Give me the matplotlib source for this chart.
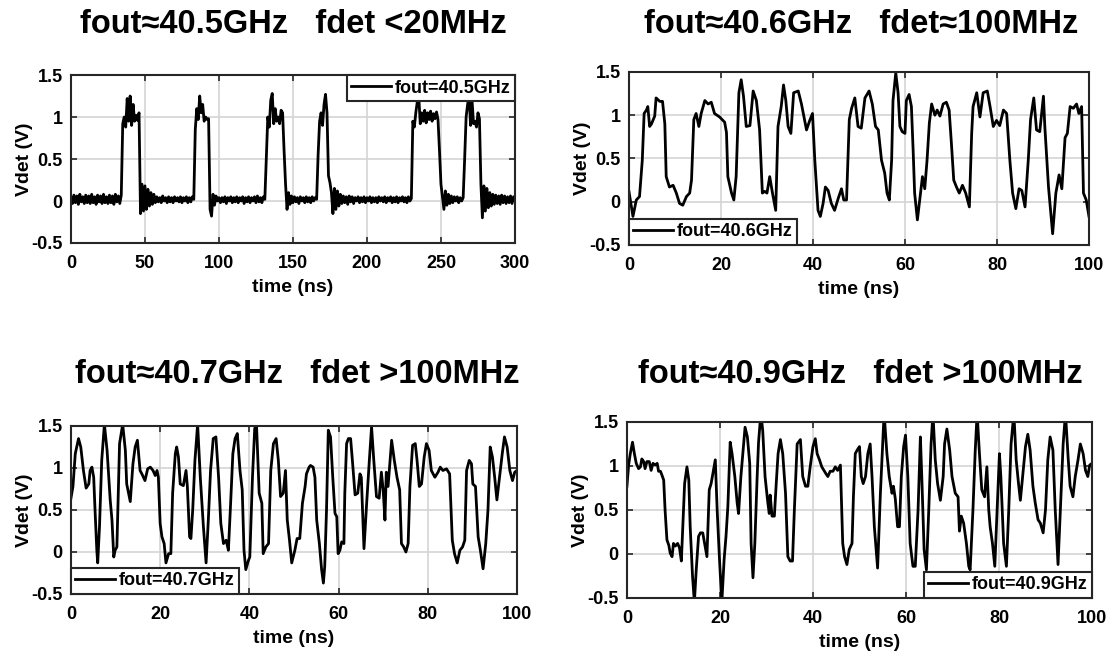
import numpy as np
import matplotlib
matplotlib.use("Agg")
from matplotlib import pyplot as plt

# ---- detector output traces (time in ns, Vdet in V) ----

# 40.5 GHz: sampled every 1 ns, 0..300 ns
t1 = np.arange(0, 301)
v1 = (
    # baseline 0..34
    [0.05, -0.03, 0.07, -0.02, 0.06, -0.04, 0.08, -0.01, 0.05, -0.03,
     0.07, -0.02, 0.06, -0.03, 0.08, -0.02, 0.05, -0.04, 0.07, -0.01,
     0.06, -0.03, 0.08, -0.02, 0.05, -0.03, 0.07, -0.02, 0.06, -0.04,
     0.08, -0.01, 0.06, -0.03, 0.07]
    # pulse 35..46
    + [0.92, 1.0, 0.88, 1.22, 0.95, 1.25, 0.9, 1.15, 0.95, 1.02, 0.96, 1.05]
    # ringing 47..56
    + [-0.15, 0.2, -0.12, 0.18, -0.1, 0.14, -0.06, 0.1, -0.04, 0.08]
    # baseline 57..83
    + [-0.02, 0.05, -0.01, 0.04, -0.02, 0.06, 0.0, 0.04, -0.02, 0.05,
       -0.01, 0.04, -0.02, 0.05, 0.0, 0.04, -0.01, 0.05, -0.02, 0.04,
       0.0, 0.05, -0.02, 0.04, -0.01, 0.05, 0.02]
    # pulse 84..93
    + [0.85, 1.1, 0.97, 1.25, 1.05, 1.15, 0.95, 1.0, 0.97, 0.98]
    # 94..100
    + [-0.1, -0.18, 0.08, -0.05, 0.06, 0.0, 0.04]
    # baseline 101..131
    + [-0.02, 0.04, -0.01, 0.05, -0.03, 0.04, 0.0, 0.05, -0.02, 0.04,
       -0.01, 0.05, -0.02, 0.04, 0.0, 0.05, -0.03, 0.04, -0.01, 0.05,
       -0.02, 0.04, 0.0, 0.05, -0.02, 0.06, -0.01, 0.04, -0.02, 0.05, 0.02]
    # pulse 132..144
    + [0.5, 1.0, 0.88, 1.2, 1.28, 0.92, 1.1, 0.95, 1.0, 0.92, 1.08, 1.05, 0.6]
    # 145..149
    + [0.2, -0.1, 0.1, -0.04, 0.06]
    # baseline 150..166
    + [-0.02, 0.05, -0.01, 0.04, -0.03, 0.05, 0.0, 0.04, -0.02, 0.05,
       -0.01, 0.04, -0.02, 0.05, 0.0, 0.04, 0.02]
    # pulse 167..173
    + [0.55, 0.95, 1.05, 0.9, 1.15, 1.27, 1.05]
    # 174..182
    + [0.3, 0.22, 0.1, -0.15, 0.15, -0.1, 0.12, -0.06, 0.08]
    # baseline 183..230
    + [-0.03, 0.06, -0.02, 0.05, -0.04, 0.06, -0.01, 0.05, -0.03, 0.04,
       0.0, 0.05, -0.02, 0.04, -0.01, 0.05, -0.02, 0.04, 0.0, 0.05,
       -0.02, 0.04, -0.01, 0.04, -0.02, 0.05, 0.0, 0.04, -0.01, 0.05,
       -0.02, 0.04, 0.0, 0.05, -0.02, 0.04, -0.01, 0.05, -0.02, 0.04,
       0.0, 0.05, -0.01, 0.04, -0.02, 0.05, 0.0, 0.03]
    # pulse 231..249
    + [0.95, 0.88, 1.05, 1.18, 1.25, 0.92, 1.05, 0.95, 1.08, 0.93,
       1.05, 0.97, 1.07, 0.95, 1.04, 0.98, 1.06, 0.97, 0.6]
    # 250..265
    + [0.2, 0.05, -0.1, 0.12, -0.05, 0.08, -0.03, 0.06, -0.02, 0.05,
       0.0, 0.05, -0.02, 0.04, 0.0, 0.04]
    # pulse 266..276
    + [0.5, 1.0, 1.15, 1.25, 0.9, 1.2, 0.92, 0.95, 0.88, 1.05, 0.98]
    # ringing 277..300
    + [0.2, -0.2, 0.18, -0.12, 0.15, -0.08, 0.1, -0.06, 0.08, -0.04,
       0.07, -0.03, 0.06, -0.04, 0.07, -0.02, 0.06, -0.03, 0.05, -0.02,
       0.06, -0.03, 0.05, 0.01]
)

# 40.6 GHz
t2 = [0, 0.87, 1.6, 2.3, 2.9, 3.3, 3.8, 4.1, 4.5, 4.9,
      5.6, 5.9, 6.7, 7.3, 7.8, 8.1, 8.8, 9.6, 10.3, 11.0,
      11.7, 12.5, 13.2, 13.6, 14.1, 14.6, 15.2, 15.7, 16.5, 17.2,
      17.9, 18.6, 19.7, 20.8, 21.2, 21.5, 22.3, 22.8, 23.3, 23.9,
      24.4, 24.9, 25.5, 26.3, 27.0, 27.7, 28.4, 29.0, 29.5, 30.0,
      30.6, 31.2, 31.9, 32.4, 33.1, 33.6, 34.1, 34.6, 35.2, 35.8,
      36.8, 37.5, 38.6, 39.3, 39.9, 40.4, 41.1, 41.6, 42.2, 42.7,
      43.3, 44.0, 44.7, 45.5, 46.2, 46.7, 47.3, 47.9, 48.4, 49.1,
      49.8, 50.5, 51.3, 52.2, 52.9, 53.6, 54.2, 54.9, 55.6, 56.1,
      56.6, 57.1, 57.4, 58.0, 58.5, 58.9, 59.4, 60.0, 60.3, 60.9,
      61.4, 61.8, 62.1, 62.7, 63.2, 63.8, 64.3, 64.8, 65.3, 65.8,
      66.5, 67.0, 67.6, 68.3, 69.0, 69.6, 70.1, 70.6, 71.2, 71.8,
      72.5, 73.2, 74.0, 74.5, 74.8, 75.6, 76.3, 77.0, 77.9, 78.5,
      79.2, 79.9, 80.6, 81.4, 82.1, 82.8, 83.4, 84.1, 84.8, 85.4,
      86.1, 86.8, 87.3, 88.0, 88.6, 89.3, 90.1, 90.4, 91.2, 92.1,
      92.8, 93.5, 94.1, 94.8, 95.3, 95.9, 96.6, 97.3, 97.8, 98.4,
      98.8, 99.4, 100.0]
v2 = [0.12, -0.17, 0.02, 0.06, 0.48, 1.02, 1.06, 1.1, 0.87, 0.9,
      0.99, 1.2, 1.16, 1.16, 0.9, 0.29, 0.17, 0.19, 0.1, -0.02,
      -0.04, 0.06, 0.1, 0.25, 0.95, 1.02, 0.87, 1.02, 1.17, 1.13,
      1.15, 1.02, 0.98, 0.92, 0.8, 0.29, 0.1, 0.02, 0.29, 1.26,
      1.41, 1.22, 0.87, 0.88, 1.28, 1.17, 0.83, 0.1, 0.12, 0.1,
      0.29, 0.1, -0.1, 0.87, 1.1, 1.35, 1.17, 0.87, 0.79, 1.26,
      1.28, 1.13, 0.83, 0.94, 1.02, 0.48, -0.1, -0.17, -0.02, 0.17,
      0.13, -0.02, -0.1, 0.04, 0.15, 0.02, 0.02, 0.95, 1.08, 1.2,
      0.87, 0.85, 1.2, 1.28, 1.13, 0.87, 0.83, 0.48, 0.33, 0.1,
      0.02, 0.48, 1.17, 1.49, 1.26, 0.87, 0.81, 0.79, 1.17, 1.24,
      1.1, 0.56, 0.1, -0.21, 0.02, 0.29, 0.15, 0.48, 0.91, 1.13,
      1.0, 1.06, 0.99, 1.13, 1.15, 1.06, 0.67, 0.25, 0.17, 0.1,
      0.19, 0.1, -0.06, 0.79, 1.1, 1.26, 0.98, 1.26, 1.28, 1.1,
      0.87, 0.94, 0.88, 1.06, 1.02, 0.48, 0.1, -0.08, 0.15, 0.13,
      -0.06, 0.48, 0.95, 1.2, 0.83, 0.81, 1.22, 0.87, 0.17, -0.37,
      0.1, 0.31, 0.15, 0.74, 0.79, 1.1, 1.08, 1.13, 1.02, 1.1,
      0.1, 0.02, -0.17]

# 40.7 GHz
t3 = [0, 0.45, 0.97, 1.7, 2.2, 2.8, 3.4, 4.0, 4.3, 4.7,
      5.1, 5.4, 5.8, 6.0, 6.4, 6.9, 7.5, 8.1, 8.8, 9.2,
      9.6, 9.9, 10.3, 10.9, 11.6, 12.2, 12.5, 13.3, 13.9, 14.4,
      14.9, 15.5, 15.9, 16.6, 17.2, 17.8, 18.4, 18.9, 19.3, 19.6,
      20.0, 20.4, 20.9, 21.3, 21.9, 22.4, 22.8, 23.4, 23.7, 24.1,
      24.5, 25.2, 25.8, 26.1, 26.6, 26.9, 27.3, 27.8, 28.4, 29.0,
      29.7, 30.3, 30.8, 31.3, 31.9, 32.5, 33.1, 33.6, 34.2, 34.8,
      35.3, 35.8, 36.3, 36.8, 37.3, 37.9, 38.4, 38.8, 39.2, 39.8,
      40.1, 40.7, 41.2, 41.6, 42.2, 42.8, 43.1, 43.7, 44.3, 44.8,
      45.4, 46.0, 46.5, 47.0, 47.6, 48.1, 48.5, 49.0, 49.5, 50.2,
      50.7, 51.3, 51.9, 52.5, 52.8, 53.4, 53.7, 54.3, 54.7, 55.1,
      55.7, 56.2, 56.6, 56.9, 57.3, 57.7, 58.2, 58.7, 59.2, 59.6,
      59.9, 60.3, 60.7, 61.2, 61.4, 61.8, 62.2, 62.7, 63.1, 63.7,
      64.3, 64.8, 65.1, 65.7, 66.3, 66.9, 67.4, 67.9, 68.5, 69.1,
      69.6, 70.0, 70.4, 70.7, 71.1, 71.9, 72.5, 73.1, 73.7, 74.1,
      74.6, 75.1, 75.6, 76.0, 76.6, 77.2, 77.6, 78.1, 78.6, 79.2,
      79.7, 80.3, 80.8, 81.6, 82.3, 82.8, 83.4, 84.2, 84.9, 85.5,
      86.0, 86.6, 87.2, 87.8, 88.3, 88.7, 89.3, 89.8, 90.1, 90.7,
      91.3, 91.8, 92.4, 93.0, 93.5, 94.0, 94.5, 95.0, 95.5, 96.1,
      96.7, 97.2, 97.8, 98.4, 99.0, 99.5, 100.0]
v3 = [0.64, 0.78, 1.17, 1.35, 1.25, 0.97, 0.76, 0.81, 0.97, 1.01,
      0.89, 0.5, 0.02, -0.13, 0.3, 1.09, 1.52, 1.21, 0.62, 0.38,
      -0.06, 0.02, 0.06, 1.29, 1.52, 1.21, 0.81, 0.6, 1.05, 1.25,
      1.33, 0.97, 0.93, 0.85, 0.99, 1.01, 0.97, 0.91, 0.97, 0.89,
      0.34, 0.18, 0.1, -0.13, -0.02, -0.02, 0.7, 1.17, 1.25, 1.13,
      0.81, 0.79, 0.97, 0.78, 0.18, 0.16, 0.5, 1.09, 1.52, 0.89,
      0.3, -0.13, 0.38, 0.97, 1.35, 1.37, 0.89, 0.34, 0.1, 0.14,
      0.02, 0.58, 1.17, 1.35, 1.41, 0.97, 0.74, 0.02, -0.21, -0.1,
      -0.06, 0.89, 1.47, 1.52, 0.7, 0.58, -0.02, 0.06, 0.1, 0.97,
      1.29, 1.35, 1.09, 0.66, 0.7, 0.97, 0.38, 0.14, -0.13, 0.02,
      0.16, 0.16, 0.58, 0.78, 0.93, 1.01, 1.03, 1.01, 0.89, 0.38,
      0.1, -0.21, -0.37, -0.17, 0.5, 1.45, 1.37, 0.89, 0.46, 0.42,
      -0.02, 0.02, 0.12, 0.1, 0.7, 1.29, 1.35, 1.35, 1.09, 0.68,
      0.7, 0.93, 0.89, 0.04, 0.58, 1.09, 1.49, 1.09, 0.66, 0.64,
      0.95, 0.74, 0.38, 0.95, 0.78, 1.33, 1.09, 0.89, 0.74, 0.1,
      0.06, 0.0, 0.1, 0.78, 1.27, 1.29, 1.09, 0.78, 0.81, 1.13,
      1.29, 1.21, 0.97, 0.89, 0.95, 1.01, 0.97, 0.99, 0.93, 0.14,
      -0.02, -0.13, 0.02, 0.06, 0.14, 0.97, 1.09, 1.05, 0.81, 0.78,
      0.18, 0.02, -0.2, 0.1, 0.5, 1.25, 1.13, 0.89, 0.62, 0.89,
      1.17, 1.37, 1.25, 0.97, 0.85, 0.95, 0.97]

# 40.9 GHz
t4 = [0, 0.36, 0.72, 1.2, 1.6, 2.0, 2.5, 2.9, 3.2, 3.6,
      3.9, 4.3, 4.8, 5.2, 5.6, 6.1, 6.5, 6.8, 7.2, 7.5,
      7.9, 8.2, 8.6, 9.0, 9.3, 9.7, 10.0, 10.4, 10.9, 11.3,
      11.7, 12.0, 12.4, 12.9, 13.3, 13.6, 14.1, 14.5, 14.9, 15.4,
      15.8, 16.3, 16.7, 17.2, 17.7, 18.1, 18.5, 19.0, 19.4, 19.9,
      20.4, 20.9, 21.3, 21.7, 22.2, 22.6, 23.2, 23.7, 24.0, 24.5,
      25.1, 25.4, 25.9, 26.4, 26.7, 27.1, 27.5, 28.0, 28.3, 28.8,
      29.2, 29.7, 30.3, 30.6, 30.8, 31.2, 31.7, 32.1, 32.5, 33.0,
      33.5, 34.1, 34.6, 35.1, 35.6, 36.0, 36.6, 37.3, 37.8, 38.4,
      38.9, 39.4, 40.0, 40.5, 40.9, 41.4, 41.9, 42.7, 43.2, 43.7,
      44.3, 44.8, 45.3, 45.9, 46.4, 46.8, 47.3, 47.8, 48.4, 48.7,
      49.1, 49.5, 50.0, 50.4, 50.8, 51.3, 51.8, 52.3, 52.7, 53.2,
      53.9, 54.5, 55.0, 55.3, 55.9, 56.4, 57.0, 57.3, 57.7, 58.2,
      58.6, 59.0, 59.5, 59.9, 60.4, 60.9, 61.5, 62.0, 62.6, 63.1,
      63.4, 63.9, 64.4, 64.9, 65.4, 65.8, 66.3, 66.8, 67.4, 68.0,
      68.3, 68.8, 69.4, 69.9, 70.6, 71.2, 71.5, 71.9, 72.4, 73.0,
      73.5, 73.8, 74.4, 74.9, 75.3, 75.8, 76.3, 76.9, 77.4, 77.8,
      78.1, 78.6, 79.1, 79.6, 80.1, 80.4, 81.0, 81.6, 82.1, 82.6,
      83.2, 83.7, 84.2, 84.6, 85.2, 85.7, 86.2, 86.7, 87.3, 87.8,
      88.4, 88.9, 89.5, 90.0, 90.5, 91.0, 91.6, 92.1, 92.7, 93.2,
      93.8, 94.3, 94.9, 95.3, 95.9, 96.4, 97.0, 97.5, 98.1, 98.6,
      99.1, 99.5, 100.0]
v4 = [0.77, 1.01, 1.14, 1.27, 1.14, 1.03, 0.97, 0.99, 1.08, 1.05,
      0.97, 1.05, 1.05, 0.95, 1.03, 1.01, 1.03, 0.94, 0.94, 0.9,
      0.84, 0.5, 0.16, 0.1, 0.01, -0.03, 0.12, 0.09, 0.12, 0.07,
      -0.08, 0.31, 0.8, 0.99, 0.84, 0.31, -0.25, -0.55, -0.18, 0.2,
      0.24, 0.24, 0.12, -0.03, 0.73, 0.8, 0.92, 1.07, 0.5, -0.06,
      -0.55, -0.06, 0.2, 0.54, 1.27, 1.14, 0.88, 0.58, 0.46, 0.88,
      1.25, 1.44, 1.33, 1.03, 0.12, -0.27, 0.12, 0.88, 1.27, 1.6,
      1.4, 0.88, 0.58, 0.46, 0.67, 0.43, 0.43, 0.8, 1.14, 1.3,
      1.14, 0.69, -0.03, -0.08, -0.08, 0.5, 1.25, 1.3, 0.88, 0.77,
      0.77, 0.99, 1.22, 1.31, 1.14, 1.07, 0.99, 0.92, 0.88, 0.94,
      0.94, 0.99, 0.95, 1.01, 0.12, -0.03, -0.12, 0.05, 0.12, 0.65,
      1.14, 1.18, 1.22, 0.88, 0.8, 0.88, 1.14, 1.25, 0.88, 0.31,
      -0.16, 0.69, 1.25, 1.6, 1.14, 0.88, 0.69, 0.77, 0.63, 0.31,
      0.31, 0.88, 1.22, 1.35, 0.88, 0.12, -0.14, -0.14, 0.5, 1.33,
      0.88, 0.05, -0.18, 0.5, 1.25, 1.6, 1.07, 0.8, 0.61, 0.88,
      1.25, 1.42, 1.18, 0.88, 0.69, 0.65, 0.26, 0.43, 0.35, 0.12,
      -0.14, -0.18, 0.5, 1.18, 1.6, 1.14, 0.73, 0.65, 0.99, 0.5,
      0.31, 0.12, -0.14, 0.5, 1.14, 0.88, 0.12, -0.14, 0.5, 1.25,
      1.6, 1.07, 0.8, 0.61, 0.95, 1.22, 1.36, 1.18, 0.77, 0.58,
      0.39, 0.35, 0.24, 0.5, 1.07, 1.33, 1.18, 0.5, -0.12, 0.5,
      1.25, 1.6, 1.07, 0.77, 0.65, 0.88, 1.07, 1.25, 1.14, 0.95,
      0.88, 1.01, 1.03]

assert len(t1) == len(v1)
assert len(t2) == len(v2)
assert len(t3) == len(v3)
assert len(t4) == len(v4)

titles = ["fout\u224840.5GHz   fdet <20MHz", "fout\u224840.6GHz   fdet\u2248100MHz",
          "fout\u224840.7GHz   fdet >100MHz", "fout\u224840.9GHz   fdet >100MHz"]
legend_labels = ["fout=40.5GHz", "fout=40.6GHz", "fout=40.7GHz", "fout=40.9GHz"]
ytick_vals = [-0.5, 0, 0.5, 1, 1.5]
ytick_labels = ["-0.5", "0", "0.5", "1", "1.5"]

plt.rcParams["font.family"] = ["Liberation Sans", "DejaVu Sans"]
plt.rcParams["font.weight"] = "bold"
plt.rcParams["axes.labelweight"] = "bold"

fig = plt.figure(figsize=(11.12, 6.58), dpi=100)

# axes rectangles [left, bottom, width, height] in figure fraction
rects = [
    [0.0638, 0.6307, 0.3993, 0.2553],
    [0.5656, 0.6277, 0.4137, 0.2629],
    [0.0638, 0.0973, 0.4011, 0.2553],
    [0.5638, 0.0912, 0.4182, 0.2675],
]
title_pos = [(0.2635, 0.963), (0.774, 0.963), (0.267, 0.431), (0.774, 0.431)]
legend_loc = ["upper right", "lower left", "lower left", "lower right"]
series = [(t1, v1), (t2, v2), (t3, v3), (t4, v4)]
xmax = [300, 100, 100, 100]
xstep = [50, 20, 20, 20]

for i in range(4):
    ax = fig.add_axes(rects[i])
    t, v = series[i]
    ax.plot(t, v, color="black", linewidth=2.0, label=legend_labels[i])
    ax.set_xlim(0, xmax[i])
    ax.set_ylim(-0.5, 1.5)
    ax.set_xticks(np.arange(0, xmax[i] + 1, xstep[i]))
    ax.set_yticks(ytick_vals)
    ax.set_yticklabels(ytick_labels)
    ax.grid(True, color="#d4d4d4", linewidth=1.2)
    ax.set_axisbelow(True)
    for s in ax.spines.values():
        s.set_linewidth(1.5)
        s.set_color("#262626")
    ax.tick_params(direction="in", top=True, right=True, length=4, width=1.2,
                   labelsize=13, color="#262626")
    ax.tick_params(axis="x", pad=9)
    ax.tick_params(axis="y", pad=6)
    ax.set_xlabel("time (ns)", fontsize=14, labelpad=5)
    ax.set_ylabel("Vdet (V)", fontsize=14, labelpad=-1)
    leg = ax.legend(loc=legend_loc[i], fontsize=13, frameon=True, fancybox=False,
                    framealpha=1, edgecolor="#262626", borderaxespad=0,
                    handlelength=2.2, handletextpad=0.2, borderpad=0.25)
    leg.get_frame().set_linewidth(1.5)
    fig.text(title_pos[i][0], title_pos[i][1], titles[i], ha="center", va="center",
             fontsize=23.5, fontweight="bold")

fig.savefig("out.png", dpi=100)
